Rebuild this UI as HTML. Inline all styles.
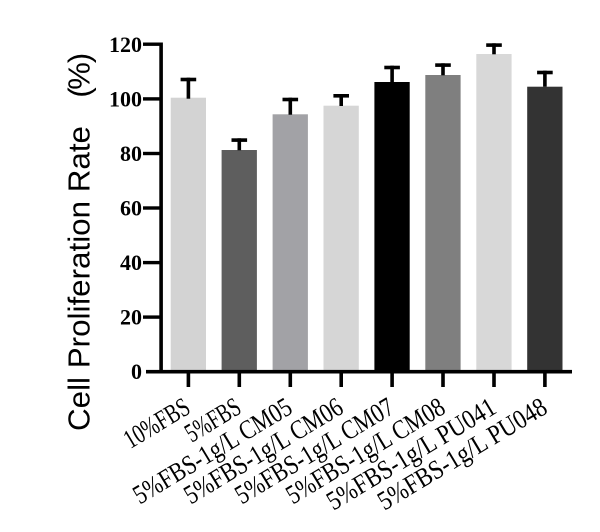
<!DOCTYPE html>
<html><head><meta charset="utf-8"><style>
html,body{margin:0;padding:0;background:#fff;}
svg{display:block;}
</style></head><body>
<svg width="600" height="532" viewBox="0 0 600 532" xmlns="http://www.w3.org/2000/svg">
<rect width="600" height="532" fill="#fff"/>
<!-- bars -->
<rect x="170.7" y="97.7" width="35.3" height="275" fill="#d3d3d3"/>
<rect x="221.6" y="150" width="35.3" height="222" fill="#5e5e5e"/>
<rect x="272.6" y="114.3" width="35.3" height="258" fill="#a2a2a6"/>
<rect x="323.5" y="105.7" width="35.3" height="266" fill="#d6d6d6"/>
<rect x="374.4" y="82" width="35.3" height="290" fill="#000"/>
<rect x="425.3" y="75" width="35.3" height="297" fill="#7f7f7f"/>
<rect x="476.3" y="54" width="35.3" height="318" fill="#d8d8d8"/>
<rect x="527.2" y="86.7" width="35.3" height="285" fill="#333"/>
<!-- error bars -->
<g fill="#000">
<rect x="186.6" y="77.7" width="3.6" height="21"/><rect x="180.6" y="77.7" width="15.6" height="3.6"/>
<rect x="237.5" y="138.3" width="3.6" height="12"/><rect x="231.5" y="138.3" width="15.6" height="3.6"/>
<rect x="288.5" y="97.7" width="3.6" height="17"/><rect x="282.5" y="97.7" width="15.6" height="3.6"/>
<rect x="339.4" y="94" width="3.6" height="12"/><rect x="333.4" y="94" width="15.6" height="3.6"/>
<rect x="390.3" y="65.7" width="3.6" height="17"/><rect x="384.3" y="65.7" width="15.6" height="3.6"/>
<rect x="441.2" y="63.3" width="3.6" height="12"/><rect x="435.2" y="63.3" width="15.6" height="3.6"/>
<rect x="492.2" y="43.3" width="3.6" height="11"/><rect x="486.2" y="43.3" width="15.6" height="3.6"/>
<rect x="543.1" y="70.7" width="3.6" height="16"/><rect x="537.1" y="70.7" width="15.6" height="3.6"/>
</g>
<!-- axes -->
<g fill="#000">
<rect x="159.3" y="42.5" width="3.6" height="331"/>
<rect x="146" y="369.9" width="426" height="3.6"/>
<rect x="143" y="42.5" width="18" height="3.4"/>
<rect x="143" y="97.2" width="18" height="3.4"/>
<rect x="143" y="151.8" width="18" height="3.4"/>
<rect x="143" y="206.3" width="18" height="3.4"/>
<rect x="143" y="260.9" width="18" height="3.4"/>
<rect x="143" y="315.4" width="18" height="3.4"/>
<!-- x ticks -->
<rect x="186.6" y="372" width="3.6" height="15"/>
<rect x="237.5" y="372" width="3.6" height="15"/>
<rect x="288.5" y="372" width="3.6" height="15"/>
<rect x="339.4" y="372" width="3.6" height="15"/>
<rect x="390.3" y="372" width="3.6" height="15"/>
<rect x="441.2" y="372" width="3.6" height="15"/>
<rect x="492.2" y="372" width="3.6" height="15"/>
<rect x="543.1" y="372" width="3.6" height="15"/>
</g>
<!-- y tick labels -->
<g font-family="'Liberation Serif', serif" font-weight="bold" font-size="22" text-anchor="end" fill="#000">
<text x="142" y="51.8">120</text>
<text x="142" y="106.4">100</text>
<text x="142" y="161">80</text>
<text x="142" y="215.5">60</text>
<text x="142" y="270.1">40</text>
<text x="142" y="324.6">20</text>
<text x="142" y="379.2">0</text>
</g>
<!-- y title -->
<g font-family="'Liberation Sans', sans-serif" font-size="31" fill="#000">
<text transform="translate(89.5,431) rotate(-90)" textLength="305" lengthAdjust="spacingAndGlyphs">Cell Proliferation Rate</text>
<text transform="translate(89.5,92.5) rotate(-90)" text-anchor="middle">(</text>
<text transform="translate(89.5,76) rotate(-90)" text-anchor="middle">%</text>
<text transform="translate(89.5,58) rotate(-90)" text-anchor="middle">)</text>
</g>
<!-- x labels -->
<g font-family="'Liberation Serif', 'Noto Serif CJK SC', serif" font-size="27" fill="#000" text-anchor="end">
<text transform="translate(192,412) rotate(-31)" textLength="72" lengthAdjust="spacingAndGlyphs">10%FBS</text>
<text transform="translate(243,412) rotate(-31)" textLength="60" lengthAdjust="spacingAndGlyphs">5%FBS</text>
<text transform="translate(294,412) rotate(-31)" textLength="180" lengthAdjust="spacingAndGlyphs">5%FBS-1g/L CM05</text>
<text transform="translate(345,412) rotate(-31)" textLength="180" lengthAdjust="spacingAndGlyphs">5%FBS-1g/L CM06</text>
<text transform="translate(396,412) rotate(-31)" textLength="180" lengthAdjust="spacingAndGlyphs">5%FBS-1g/L CM07</text>
<text transform="translate(447,412) rotate(-31)" textLength="180" lengthAdjust="spacingAndGlyphs">5%FBS-1g/L CM08</text>
<text transform="translate(498,412) rotate(-31)" textLength="192" lengthAdjust="spacingAndGlyphs">5%FBS-1g/L PU041</text>
<text transform="translate(549,412) rotate(-31)" textLength="192" lengthAdjust="spacingAndGlyphs">5%FBS-1g/L PU048</text>
</g>
</svg>
</body></html>
